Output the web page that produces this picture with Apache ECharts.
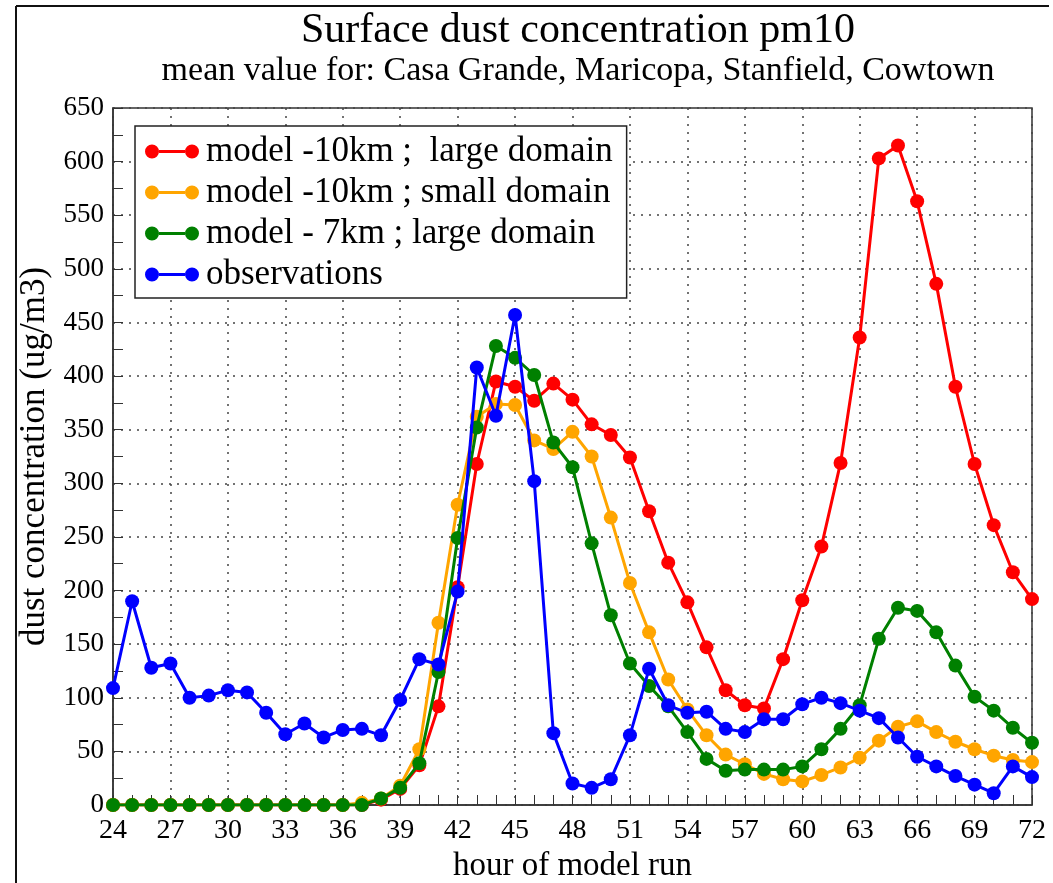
<!DOCTYPE html>
<html>
<head>
<meta charset="utf-8">
<script src="https://cdn.jsdelivr.net/npm/echarts@6/dist/echarts.min.js"></script>
<style>
  html, body { margin: 0; padding: 0; background: #fff; }
  #chart { width: 1053px; height: 883px; }
</style>
</head>
<body>
<div id="chart"></div>
<script>
// hours 24..72
var hours = [];
for (var h = 24; h <= 72; h++) hours.push(h);

var red10Large = [0,0,0,0,0,0,0,0,0,0,0,0,0,0,5,15,37,92,203,318,395,390,377,393,378,355,345,324,274,226,189,147,107,93,90,136,191,241,319,436,603,615,563,486,390,318,261,217,192];
var orange10Small = [0,0,0,0,0,0,0,0,0,0,0,0,0,2,6,18,52,170,280,362,374,373,340,332,348,325,268,207,161,117,89,65,47,38,29,24,22,28,35,44,60,73,78,68,59,52,46,42,40];
var green7Large = [0,0,0,0,0,0,0,0,0,0,0,0,0,0,6,16,39,124,249,352,428,417,401,338,315,244,177,132,111,92,68,43,32,33,33,33,36,52,71,93,155,184,181,161,130,101,88,72,58];
var observations = [109,190,128,132,100,102,107,105,86,66,76,63,70,71,65,98,136,131,199,408,363,457,302,67,20,16,24,65,127,93,86,87,71,68,80,80,94,100,95,88,81,63,45,36,27,19,11,36,26];

var seriesNames = ['model -10km ;  large domain', 'model -10km ; small domain', 'model - 7km ; large domain', 'observations'];
var seriesColors = ['#ff0000', '#ffa500', '#008000', '#0000ff'];
var seriesData = [red10Large, orange10Small, green7Large, observations];

function pairs(arr) {
    var out = [];
    for (var i = 0; i < arr.length; i++) out.push([hours[i], arr[i]]);
    return out;
}

var font = '"Liberation Serif", "DejaVu Serif", serif';
// legend icon: dot - line - dot (no overlapping parts)
var legendIcon = 'path://M0,7a7,7 0 1,1 14,0a7,7 0 1,1 -14,0Z M14,5.5h26v3h-26Z M40,7a7,7 0 1,1 14,0a7,7 0 1,1 -14,0Z';

var series = [];
for (var i = 0; i < seriesNames.length; i++) {
    series.push({
        name: seriesNames[i],
        type: 'line',
        data: pairs(seriesData[i]),
        symbol: 'circle',
        symbolSize: 14,
        lineStyle: { width: 3, color: seriesColors[i] },
        itemStyle: { color: seriesColors[i] },
        z: 2 + i
    });
}

var myChart = echarts.init(document.getElementById('chart'));
var option = {
    backgroundColor: '#fff',
    animation: false,
    title: {
        text: 'Surface dust concentration pm10',
        subtext: 'mean value for: Casa Grande, Maricopa, Stanfield, Cowtown',
        left: 573,
        textAlign: 'center',
        top: 5,
        itemGap: 2,
        textStyle: { fontFamily: font, fontSize: 42, fontWeight: 'normal', color: '#000' },
        subtextStyle: { fontFamily: font, fontSize: 34, color: '#000' }
    },
    legend: {
        orient: 'vertical',
        left: 135,
        top: 126,
        itemWidth: 54,
        itemHeight: 14,
        itemGap: 6,
        padding: [8, 14, 6, 10],
        icon: legendIcon,
        borderColor: '#222',
        borderWidth: 1.5,
        backgroundColor: '#fff',
        textStyle: { fontFamily: font, fontSize: 35, color: '#000', padding: [0, 0, 0, 2] },
        data: seriesNames
    },
    grid: {
        left: 113,
        right: 21,
        top: 108,
        bottom: 78,
        outerBoundsMode: 'none',
        containLabel: false,
        show: true,
        borderColor: '#333',
        borderWidth: 1.5
    },
    xAxis: {
        type: 'value',
        min: 24,
        max: 72,
        interval: 3,
        name: 'hour of model run',
        nameLocation: 'middle',
        nameGap: 44,
        nameTextStyle: { fontFamily: font, fontSize: 33, color: '#000' },
        axisLine: { lineStyle: { color: '#333', width: 1.5 } },
        axisTick: { inside: true, length: 10, lineStyle: { color: '#333' } },
        minorTick: { show: true, splitNumber: 3, length: 10, lineStyle: { color: '#333' } },
        axisLabel: { fontFamily: font, fontSize: 28, color: '#000', margin: 12 },
        splitLine: { show: true, lineStyle: { color: '#444', type: [2, 6], width: 1.5 } }
    },
    yAxis: {
        type: 'value',
        min: 0,
        max: 650,
        interval: 50,
        name: 'dust concentration (ug/m3)',
        nameLocation: 'middle',
        nameGap: 56,
        nameTextStyle: { fontFamily: font, fontSize: 35, color: '#000' },
        axisLine: { show: true, lineStyle: { color: '#333', width: 1.5 } },
        axisTick: { show: true, inside: true, length: 10, lineStyle: { color: '#333' } },
        minorTick: { show: true, splitNumber: 2, length: 10, lineStyle: { color: '#333' } },
        axisLabel: { fontFamily: font, fontSize: 27, color: '#000', margin: 9 },
        splitLine: { show: true, lineStyle: { color: '#444', type: [2, 6], width: 1.5 } }
    },
    graphic: [
        { type: 'line', shape: { x1: 16, y1: 6, x2: 1049, y2: 6 }, style: { stroke: '#111', lineWidth: 2 } },
        { type: 'line', shape: { x1: 16, y1: 6, x2: 16, y2: 883 }, style: { stroke: '#111', lineWidth: 2 } }
    ],
    series: series
};
myChart.setOption(option);
</script>
</body>
</html>
